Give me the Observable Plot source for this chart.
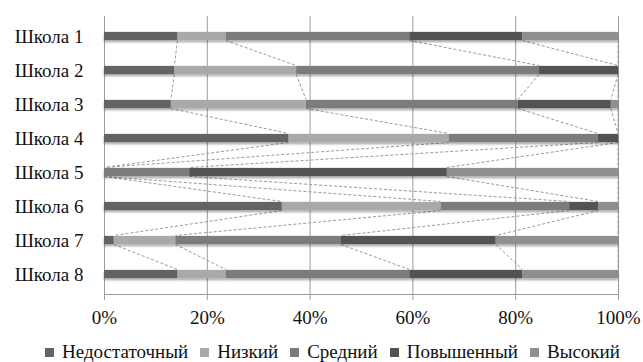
<!DOCTYPE html>
<html>
<head>
<meta charset="utf-8">
<script src="https://cdn.jsdelivr.net/npm/d3@7"></script>
<script src="https://cdn.jsdelivr.net/npm/@observablehq/plot@0.6"></script>
<style>
  html, body { margin: 0; padding: 0; background: #fff; }
  #chart { width: 643px; height: 362px; position: relative; }
  #legend { display: flex; align-items: center; padding-left: 45px; height: 20px; margin-top: 10px; font-size: 19px; color: #111; white-space: nowrap; }
  #legend .item { display: flex; align-items: center; margin-right: 12px; }
  #legend .sw { width: 9px; height: 9px; margin-right: 8px; }
</style>
</head>
<body>
<div id="chart"></div>
<script>
// Schools and achievement levels
const schools = ["Школа 1", "Школа 2", "Школа 3", "Школа 4", "Школа 5", "Школа 6", "Школа 7", "Школа 8"];
const levels = ["Недостаточный", "Низкий", "Средний", "Повышенный", "Высокий"];

// Share of pupils at each level, % (per school, in the order above)
const insufficient = [14.3, 13.7, 13.0, 35.9, 0.0, 34.6, 1.9, 14.3];
const low          = [9.4, 23.7, 26.3, 31.2, 0.0, 30.9, 12.0, 9.4];
const medium       = [35.7, 47.2, 41.2, 29.0, 16.6, 25.0, 32.2, 35.7];
const elevated     = [22.0, 15.4, 18.1, 3.9, 50.1, 5.7, 30.1, 22.0];
const high         = [18.6, 0.0, 1.4, 0.0, 33.3, 3.8, 23.8, 18.6];

const xTicks = [0, 20, 40, 60, 80, 100];
const colors = ["#646464", "#a9a9a9", "#7b7b7b", "#525252", "#8f8f8f"];

const series = [insufficient, low, medium, elevated, high];
const serifFont = "'Liberation Serif', 'Times New Roman', Times, 'DejaVu Serif', serif";
document.getElementById("chart").style.fontFamily = serifFont;

// Long table: one row per school × level
const rows = [];
schools.forEach((s, i) => {
  levels.forEach((lv, k) => rows.push({school: s, level: lv, value: series[k][i]}));
});

// Cumulative end of each level per school, for the series lines
const ends = schools.map((s, i) => {
  let acc = 0;
  return series.map(arr => (acc += arr[i]));
});
const links = [];
for (let i = 0; i < schools.length - 1; i++) {
  for (let k = 0; k < levels.length; k++) {
    links.push({from: schools[i], to: schools[i + 1], x1: ends[i][k], x2: ends[i + 1][k]});
  }
}

const barThickness = 9;
const height = 332;
const marginTop = 16;
const marginBottom = height - 294;
const bandStep = (height - marginTop - marginBottom) / schools.length;
const inset = (bandStep - barThickness) / 2;

// Dashed series lines from the bottom edge of one bar to the top edge of the next
function seriesLines(index, scales) {
  const {x, y} = scales;
  const bw = y.bandwidth();
  const g = d3.create("svg:g")
    .attr("fill", "none")
    .attr("stroke", "#9a9a9a")
    .attr("stroke-width", 1)
    .attr("stroke-dasharray", "3,2");
  for (const d of links) {
    g.append("line")
      .attr("x1", x(d.x1)).attr("y1", y(d.from) + bw / 2 + barThickness / 2)
      .attr("x2", x(d.x2)).attr("y2", y(d.to) + bw / 2 - barThickness / 2);
  }
  return g.node();
}

// Horizontal category-axis line along the bottom of the plotting area
function baseLine(index, scales, values, dimensions) {
  const {x} = scales;
  const yb = dimensions.height - dimensions.marginBottom + 0.5;
  return d3.create("svg:line")
    .attr("x1", x(0)).attr("x2", x(100))
    .attr("y1", yb).attr("y2", yb)
    .attr("stroke", "#9c9c9c")
    .node();
}

const plot = Plot.plot({
  width: 643,
  height,
  marginLeft: 104,
  marginRight: 25,
  marginTop,
  marginBottom,
  style: {fontFamily: serifFont, fontSize: "19px", color: "#111", background: "#fff", overflow: "visible"},
  x: {domain: [0, 100]},
  y: {domain: schools, padding: 0},
  color: {domain: levels, range: colors},
  marks: [
    Plot.gridX(xTicks, {stroke: "#9c9c9c", strokeOpacity: 1}),
    Plot.axisX({ticks: xTicks, tickFormat: d => d + "%", tickSize: 6, tickPadding: 10, stroke: "#9c9c9c", fill: "#111", label: null}),
    baseLine,
    Plot.axisY({tickSize: 0, tickPadding: 21, fill: "#111", label: null}),
    seriesLines,
    Plot.barX(rows, Plot.stackX({
      x: "value",
      y: "school",
      fill: "level",
      order: levels,
      insetTop: inset,
      insetBottom: inset
    }))
  ]
});

// Soft drop shadow under the bars
const svg = d3.select(plot);
const defs = svg.insert("defs", ":first-child");
const f = defs.append("filter").attr("id", "bar-shadow")
  .attr("x", "-5%").attr("y", "-50%").attr("width", "110%").attr("height", "250%");
f.append("feDropShadow")
  .attr("dx", 0).attr("dy", 2).attr("stdDeviation", 1.2)
  .attr("flood-color", "#000").attr("flood-opacity", 0.35);
svg.selectAll("g[aria-label='bar']").attr("filter", "url(#bar-shadow)");

const chart = document.getElementById("chart");
chart.appendChild(plot);

// Legend below the plot
const legend = d3.select(chart).append("div").attr("id", "legend");
levels.forEach((lv, k) => {
  const item = legend.append("div").attr("class", "item");
  item.append("div").attr("class", "sw").style("background", colors[k]);
  item.append("span").text(lv);
});
</script>
</body>
</html>
